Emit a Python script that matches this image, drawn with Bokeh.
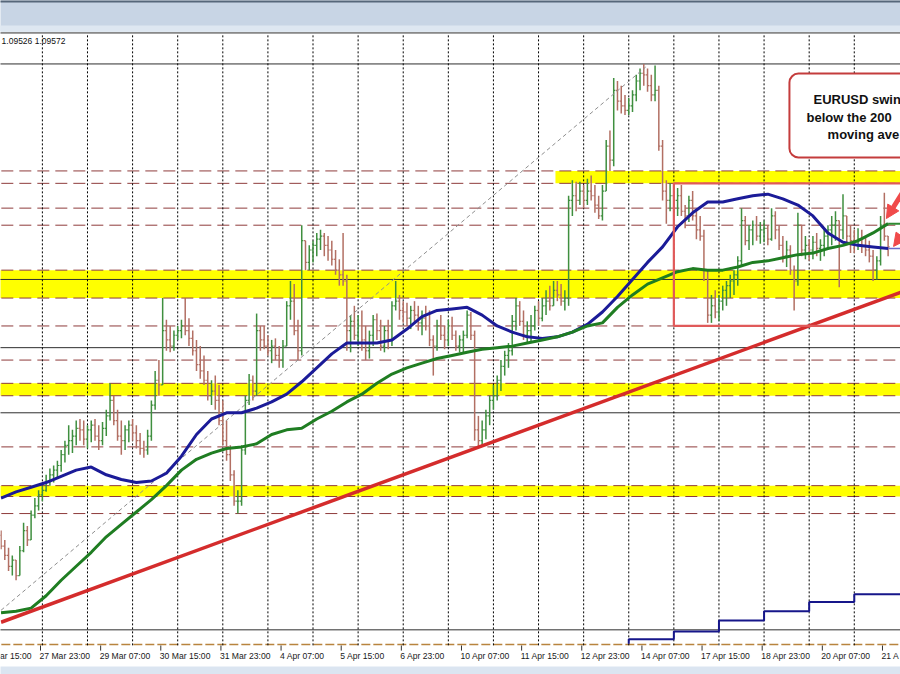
import numpy as np
from bokeh.plotting import figure
from bokeh.models import Range1d, Arrow, NormalHead
from bokeh.core.properties import value
from bokeh.embed import file_html
from bokeh.resources import INLINE

# ---------------- data (prices stored as pips above 1.0700) ----------------
BASE = 1.0700
PIP = 0.0001

# 2-hour bars, trading-hour timeline: hour 0 = 27 Mar 23:00
bar_start_hour = -21
bar_step_hours = 2
first_open = 72

bar_high = [
    75, 69, 64, 59, 56, 65, 80, 78, 88, 96,
    101, 104, 111, 115, 117, 120, 127, 133, 143, 140,
    146, 147, 146, 143, 146, 147, 143, 145, 153, 170,
    162, 153, 146, 143, 146, 147, 143, 138, 133, 140,
    159, 178, 185, 225, 211, 207, 204, 207, 211, 225,
    212, 204, 198, 194, 188, 178, 172, 175, 169, 159,
    146, 130, 114, 101, 130, 162, 176, 175, 215, 207,
    207, 201, 198, 199, 194, 198, 223, 236, 234, 211,
    272, 262, 259, 262, 267, 269, 267, 265, 262, 256,
    250, 267, 240, 214, 220, 214, 217, 207, 204, 214,
    215, 211, 207, 211, 223, 236, 227, 223, 222, 220,
    223, 220, 217, 220, 217, 201, 211, 214, 207, 211,
    213, 204, 201, 204, 217, 216, 204, 149, 146, 153,
    162, 169, 175, 185, 191, 196, 214, 225, 223, 217,
    210, 214, 220, 223, 225, 230, 233, 236, 236, 234,
    230, 291, 301, 300, 300, 298, 302, 304, 298, 291,
    298, 327, 333, 367, 365, 362, 356, 354, 359, 369,
    373, 376, 373, 369, 375, 362, 327, 301, 299, 294,
    296, 298, 285, 291, 294, 281, 278, 269, 243, 227,
    230, 227, 233, 236, 240, 243, 252, 283, 278, 272,
    275, 278, 274, 275, 272, 283, 281, 272, 265, 262,
    259, 246, 280, 272, 265, 263, 265, 267, 263, 269,
    272, 278, 281, 275, 292, 278, 272, 269, 270, 269,
    265, 262, 256, 252, 278, 293, 265,
]
bar_low = [
    63, 56, 49, 46, 43, 46, 61, 65, 69, 83,
    88, 94, 100, 104, 106, 109, 113, 119, 124, 125,
    130, 133, 130, 128, 132, 133, 127, 130, 136, 146,
    143, 133, 124, 127, 132, 133, 128, 124, 122, 124,
    133, 153, 162, 172, 191, 190, 191, 198, 199, 201,
    194, 188, 178, 173, 169, 159, 156, 153, 143, 130,
    120, 107, 91, 86, 91, 124, 156, 159, 162, 191,
    192, 188, 183, 185, 180, 180, 194, 211, 201, 185,
    188, 243, 243, 248, 252, 256, 252, 249, 246, 240,
    233, 233, 191, 190, 198, 194, 191, 185, 186, 194,
    198, 191, 190, 192, 194, 217, 211, 209, 207, 205,
    209, 204, 201, 204, 194, 175, 191, 198, 192, 194,
    198, 191, 190, 190, 199, 198, 133, 129, 130, 134,
    143, 153, 159, 165, 175, 180, 188, 204, 207, 198,
    196, 196, 204, 207, 210, 214, 217, 220, 223, 220,
    217, 220, 278, 281, 285, 283, 285, 288, 280, 276,
    275, 294, 307, 310, 346, 344, 343, 343, 345, 352,
    359, 362, 358, 352, 352, 320, 288, 273, 281, 280,
    278, 278, 270, 274, 275, 263, 262, 236, 209, 209,
    212, 210, 217, 220, 225, 227, 233, 246, 259, 256,
    259, 262, 260, 261, 259, 262, 263, 256, 248, 245,
    240, 217, 233, 252, 250, 249, 250, 252, 249, 252,
    256, 259, 262, 232, 263, 259, 254, 254, 256, 254,
    252, 248, 236, 237, 246, 262, 252,
]
bar_close = [
    65, 59, 52, 56, 46, 62, 75, 69, 85, 91,
    98, 101, 107, 111, 114, 117, 124, 130, 133, 136,
    141, 140, 134, 140, 143, 136, 133, 141, 149, 159,
    146, 136, 133, 140, 143, 138, 133, 128, 127, 136,
    156, 172, 169, 204, 198, 194, 201, 204, 207, 204,
    199, 191, 182, 178, 172, 162, 165, 159, 146, 133,
    124, 111, 94, 94, 127, 159, 172, 165, 204, 198,
    194, 191, 194, 188, 185, 194, 220, 223, 204, 191,
    262, 248, 256, 259, 263, 265, 259, 256, 250, 243,
    240, 236, 204, 210, 201, 207, 198, 191, 201, 211,
    204, 194, 204, 198, 220, 223, 217, 216, 212, 217,
    214, 209, 212, 207, 198, 194, 207, 201, 198, 207,
    201, 194, 198, 201, 214, 201, 140, 133, 140, 149,
    159, 162, 172, 181, 188, 191, 210, 220, 210, 201,
    204, 207, 217, 212, 220, 223, 220, 230, 227, 223,
    225, 288, 291, 288, 294, 288, 294, 291, 285, 278,
    294, 323, 314, 359, 352, 349, 346, 349, 356, 365,
    370, 369, 362, 356, 359, 323, 294, 288, 291, 288,
    291, 281, 278, 288, 278, 269, 265, 243, 214, 220,
    216, 223, 230, 233, 236, 240, 249, 275, 262, 269,
    272, 265, 269, 270, 263, 278, 269, 259, 252, 256,
    243, 236, 272, 256, 259, 256, 261, 257, 259, 265,
    269, 272, 275, 269, 278, 265, 262, 259, 263, 259,
    256, 252, 243, 249, 272, 265, 258,
]

# moving averages read every 8 hours
ma_start_hour = -21
ma_step_hours = 8
ma100 = [96, 100, 103, 106, 110, 114, 116, 111, 108, 106,
         107, 112, 123, 137, 147, 151, 151, 154, 158, 163,
         171, 180, 189, 196, 196, 196, 198, 205, 213, 217,
         218, 219, 214, 207, 203, 200, 199, 200, 203, 208,
         216, 226, 237, 248, 258, 271, 280, 287, 287, 289,
         291, 292, 289, 285, 278, 267, 261, 259, 258, 257]
ma200 = [22, 23, 25, 33, 43, 52, 61, 71, 79, 87,
         95, 104, 114, 121, 125, 128, 129, 131, 137, 140,
         141, 147, 152, 158, 163, 170, 176, 180, 183, 186,
         188, 190, 192, 193, 194, 196, 198, 200, 203, 207,
         209, 219, 227, 234, 238, 242, 244, 243, 243, 245,
         248, 249, 251, 253, 254, 257, 259, 262, 267, 273]

# horizontal levels (pips)
dashed_levels = [307, 299, 283, 272, 243, 225, 207, 185, 170, 162, 129, 104, 97, 86]
solid_levels = [396, 376, 237, 193, 151, 11]
band_bottoms = [299, 225, 162, 97]
band_tops = [307, 243, 170, 104]
band_start_hours = [274, -40, -40, -40]
bottom_level = 1.5

# trend lines
trend_hours = [-21, 458]
trend_pips = [15.9, 228.8]
diag_hours = [-21, 322]
diag_pips = [23.6, 374.0]

# range box
box_hours = [337, 480]
box_pips = [207, 299]

# lower step indicator
step_hours = [313, 313, 337, 361, 385, 409, 433, 462]
step_vals = [2, 5, 10, 17, 23, 29, 34, 34]

# time axis (labels as visible in the window; first and last are cut by the window edge)
tick_hours = [-32 + 32 * k for k in range(16)]
tick_labels = ["ar 15:00", "27 Mar 23:00", "29 Mar 07:00", "30 Mar 15:00",
               "31 Mar 23:00", "4 Apr 07:00", "5 Apr 15:00", "6 Apr 23:00",
               "10 Apr 07:00", "11 Apr 15:00", "12 Apr 23:00", "14 Apr 07:00",
               "17 Apr 15:00", "18 Apr 23:00", "20 Apr 07:00", "21 A"]
label_hours = [-21.0] + tick_hours[1:]
day_hours = [1 + 24 * k for k in range(19)]

header_text = "1.09526 1.09572"
note_lines = ["EURUSD swin", "below the 200", "moving ave"]
note_hours = [411.3, 407.6, 418.8]
note_pips = [353.1, 341.5, 330.5]


def px(v):
    return BASE + np.asarray(v, dtype=float) * PIP


# ---------------- figure ----------------
p = figure(width=900, height=674,
           x_range=Range1d(-21.2834, 457.593),
           y_range=Range1d(BASE - 17.805 * PIP, BASE + 416.925 * PIP),
           x_axis_type=None, y_axis_type=None,
           output_backend="svg", toolbar_location=None,
           min_border=0, outline_line_color=None,
           background_fill_color="white", border_fill_color="white")
p.grid.visible = False

# window header strip and bottom strip
p.quad(left=-40, right=480, bottom=px(396.9), top=px(440), fill_color="#c8d5e5", line_color=None)
p.quad(left=-40, right=480, bottom=px(396.9), top=px(400.8), fill_color="#dee7f1", line_color=None)
p.quad(left=-40, right=480, bottom=px(415.6), top=px(440), fill_color="#56677a", line_color=None)
p.quad(left=-40, right=480, bottom=px(-30), top=px(-12.6), fill_color="#dbe5f1", line_color=None)

# yellow zones
p.quad(left=band_start_hours, right=[480] * 4, bottom=px(band_bottoms), top=px(band_tops),
       fill_color="#ffff00", line_color=None)

# level lines
n_d = len(dashed_levels)
p.segment(x0=[-40] * n_d, x1=[480] * n_d, y0=px(dashed_levels), y1=px(dashed_levels),
          line_color="#8e3b3b", line_width=1, line_dash="12 6")
n_s = len(solid_levels)
p.segment(x0=[-40] * n_s, x1=[480] * n_s, y0=px(solid_levels), y1=px(solid_levels),
          line_color="#2e2e2e", line_width=1)
p.line(x=[-40, 480], y=px([bottom_level, bottom_level]), line_color="#b8843e",
       line_width=1.6, line_dash="9 3")

# day separators
n_g = len(day_hours)
p.segment(x0=day_hours, x1=day_hours, y0=px([1] * n_g), y1=px([395.6] * n_g),
          line_color="#000000", line_width=1, line_dash="2 2")

# bars
hi_a = np.array(bar_high, dtype=float)
lo_a = np.array(bar_low, dtype=float)
cl_a = np.array(bar_close, dtype=float)
n = len(cl_a)
hours = bar_start_hour + bar_step_hours * np.arange(n)
op_a = np.concatenate([[first_open], cl_a[:-1]])
top = np.maximum(np.maximum(hi_a, op_a), cl_a)
bot = np.minimum(np.minimum(lo_a, op_a), cl_a)
colors = ["#3f8f3f" if c >= o else "#b26f63" for o, c in zip(op_a, cl_a)]
p.segment(x0=hours, x1=hours, y0=px(bot), y1=px(top), line_color=colors, line_width=1.5)
p.segment(x0=hours - 0.85, x1=hours, y0=px(op_a), y1=px(op_a), line_color=colors, line_width=1.2)
p.segment(x0=hours, x1=hours + 0.85, y0=px(cl_a), y1=px(cl_a), line_color=colors, line_width=1.2)

# dashed diagonal
p.line(x=diag_hours, y=px(diag_pips), line_color="#8f8f8f", line_width=1, line_dash="4 3")

# moving averages
ma_hours = ma_start_hour + ma_step_hours * np.arange(len(ma100))
p.line(x=ma_hours, y=px(ma100), line_color="#1b1b98", line_width=3)
p.line(x=ma_hours, y=px(ma200), line_color="#1f7d22", line_width=3)
last_h = ma_hours[-1]
p.line(x=[last_h, 462], y=px([ma100[-1], ma100[-1]]), line_color="#6a6ac8", line_width=1.5)
p.line(x=[last_h, 462], y=px([ma200[-1], ma200[-1]]), line_color="#2f8a32", line_width=2)

# lower step indicator
p.step(x=step_hours, y=px(step_vals), mode="after", line_color="#16168a", line_width=2)

# red trend line
p.line(x=trend_hours, y=px(trend_pips), line_color="#d42c2c", line_width=3.5)

# range box
p.quad(left=box_hours[0], right=box_hours[1], bottom=px(box_pips[0]), top=px(box_pips[1]),
       fill_color=None, line_color="#e05a5a", line_width=2.2)

# time labels and ticks
n_t = len(tick_hours)
p.segment(x0=tick_hours, x1=tick_hours, y0=px([0.9] * n_t), y1=px([-2.4] * n_t),
          line_color="#333333", line_width=1)
p.text(x=label_hours, y=px([-5.6] * n_t), text=tick_labels, text_align="left",
       text_baseline="middle", text_font=value("Liberation Sans"), text_font_size="8.6px",
       text_color="#1a1a1a", x_offset=-1)

# header text
p.text(x=[-20.7], y=px([390.5]), text=[header_text], text_align="left", text_baseline="middle",
       text_font=value("Liberation Sans"), text_font_size="8.5px", text_color="#111111")

# annotation box
p.quad(left=398.5, right=500, bottom=px(315.7), top=px(369.8), fill_color="white",
       line_color="#c43c3c", line_width=2, border_radius=9)
p.text(x=note_hours, y=px(note_pips), text=note_lines, text_align="left",
       text_baseline="middle", text_font=value("Liberation Sans"), text_font_style="bold",
       text_font_size="13px", text_color="#111111")

# arrows
for xs, ys, xe, ye in [(461.0, 297.6, 450.1, 276.3), (461.0, 269.9, 453.9, 258.3)]:
    p.add_layout(Arrow(end=NormalHead(size=13, fill_color="#f04a4a", line_color="#f04a4a"),
                       x_start=xs, y_start=BASE + ys * PIP, x_end=xe, y_end=BASE + ye * PIP,
                       line_color="#f04a4a", line_width=5))

open("out.html", "w").write(file_html(p, INLINE))
